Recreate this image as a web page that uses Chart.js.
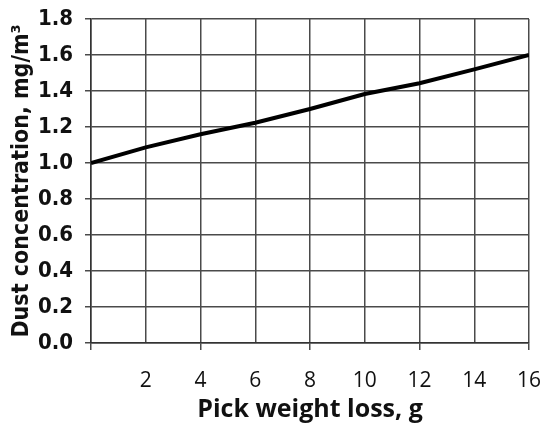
<!DOCTYPE html>
<html lang="en">
<head>
  <meta charset="UTF-8">
  <title>Dust concentration vs pick weight loss</title>
  <script src="https://cdn.jsdelivr.net/npm/chart.js"></script>
  <style>
    html, body { margin: 0; padding: 0; background: #fff; }
    #wrap { width: 550px; height: 439px; }
  </style>
</head>
<body>
  <div id="wrap"><canvas id="dustChart" width="550" height="439"></canvas></div>
  <script>
    // values
    const weightLoss = [0, 2, 4, 6, 8, 10, 12, 14, 16];
    const dustConc = [1.0, 1.087, 1.16, 1.224, 1.30, 1.383, 1.443, 1.52, 1.6];
    const xTicks = [2, 4, 6, 8, 10, 12, 14, 16];
    const yTicks = [0.0, 0.2, 0.4, 0.6, 0.8, 1.0, 1.2, 1.4, 1.6, 1.8];

    const gridColor = '#4a4a4a';
    const condensed = '"Liberation Sans Narrow", "DejaVu Sans Condensed", sans-serif';
    const rounded = '"Open Sans", Lato, sans-serif';

    new Chart(document.getElementById('dustChart'), {
      type: 'line',
      data: {
        datasets: [{
          data: weightLoss.map((x, i) => ({ x: x, y: dustConc[i] })),
          borderColor: '#000',
          borderWidth: 4,
          pointRadius: 0,
          tension: 0,
          fill: false
        }]
      },
      options: {
        responsive: false,
        animation: false,
        layout: { padding: { top: 19, right: 21, left: 0, bottom: 14 } },
        plugins: { legend: { display: false }, tooltip: { enabled: false } },
        scales: {
          x: {
            type: 'linear',
            min: 0,
            max: 16,
            afterBuildTicks: axis => { axis.ticks = [0].concat(xTicks).map(v => ({ value: v })); },
            ticks: {
              callback: v => (v === 0 ? '' : String(v)),
              color: '#111',
              font: { family: rounded, size: 21 },
              padding: 18,
              maxRotation: 0,
              autoSkip: false
            },
            grid: {
              color: gridColor,
              lineWidth: 1.5,
              tickLength: 7,
              tickColor: ctx => (ctx.tick && ctx.tick.value % 4 === 0 ? gridColor : 'rgba(0,0,0,0)')
            },
            border: { color: '#333', width: 1.5 },
            title: {
              display: true,
              text: 'Pick weight loss, g',
              color: '#111',
              font: { family: rounded, size: 25, weight: 'bold' },
              padding: { top: 2, bottom: 0 }
            },
            afterFit: axis => {
              axis.height = 82;
              axis.paddingLeft = 0;
              axis.paddingRight = 0;
            }
          },
          y: {
            min: 0,
            max: 1.8,
            afterBuildTicks: axis => { axis.ticks = yTicks.map(v => ({ value: v })); },
            ticks: {
              callback: v => v.toFixed(1),
              color: '#111',
              font: { family: condensed, size: 22, weight: 'bold' },
              padding: 12
            },
            grid: {
              color: gridColor,
              lineWidth: 1.5,
              tickLength: 6,
              tickColor: gridColor
            },
            border: { color: '#333', width: 1.5 },
            title: {
              display: true,
              text: 'Dust concentration, mg/m³',
              color: '#111',
              font: { family: condensed, size: 23, weight: 'bold' },
              padding: { top: 8, bottom: 0 }
            },
            afterFit: axis => {
              axis.width = 91;
              axis.paddingTop = 0;
              axis.paddingBottom = 0;
            }
          }
        }
      }
    });
  </script>
</body>
</html>
